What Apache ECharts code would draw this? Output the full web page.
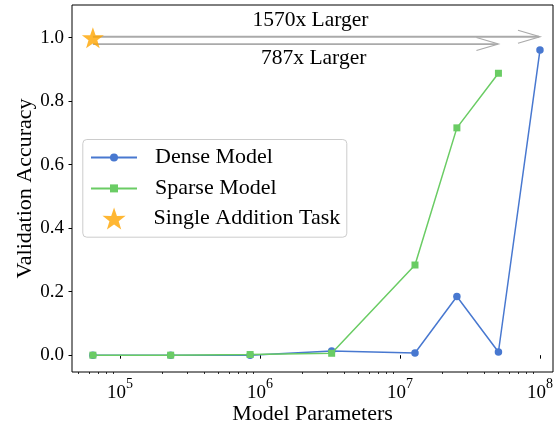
<!DOCTYPE html>
<html>
<head>
<meta charset="utf-8">
<script src="https://cdn.jsdelivr.net/npm/echarts@6/dist/echarts.min.js"></script>
<style>
html,body{margin:0;padding:0;background:#fff;}
#chart{width:554px;height:428px;}
</style>
</head>
<body>
<div id="chart"></div>
<script>
// ---- data ----
const modelParams = [6.4e4, 2.3e5, 8.5e5, 3.25e6, 1.28e7, 2.55e7, 5.05e7, 1.0e8];
const denseAcc = [0.0, 0.0, 0.0, 0.013, 0.007, 0.185, 0.010, 0.961];
const sparseAcc = [0.0, 0.0, 0.002, 0.006, 0.284, 0.716, 0.888];
const singleTask = [[6.4e4, 1.0]];
const arrowFrom = [6.4e4, 6.4e4];
const arrowTo = [1.0e8, 5.05e7];
const arrowY = [1.003, 0.980];
const arrowText = ['1570x Larger', '787x Larger'];
const xMajorTicks = [1e5, 1e6, 1e7, 1e8];
const yTicks = [0.0, 0.2, 0.4, 0.6, 0.8, 1.0];

const xMin = 45394, xMax = 1.239e8;
const xMinorTicks = [];
for (let d = 4; d <= 7; d++) {
  for (let k = 2; k <= 9; k++) {
    const v = k * Math.pow(10, d);
    if (v >= xMin && v <= xMax) xMinorTicks.push(v);
  }
}

const FONT = 'Liberation Serif';
const BLUE = '#4878D0';
const GREEN = '#6ACC64';
const ORANGE = '#FFA500';
const STAR = 'path://M50,0 L61.8,35.1 L97.6,34.5 L69.1,56.7 L79.4,90.5 L50,70 L20.6,90.5 L30.9,56.7 L2.4,34.5 L38.2,35.1 Z';

const chart = echarts.init(document.getElementById('chart'), null, {renderer: 'canvas'});

const arrowData = arrowFrom.map((f, i) => [f, arrowY[i], arrowTo[i]]);

const option = {
  animation: false,
  backgroundColor: '#fff',
  textStyle: {fontFamily: FONT},
  grid: {left: 72, right: 1, top: 5, bottom: 56, show: true, borderColor: '#000', borderWidth: 1,
    backgroundColor: 'transparent', containLabel: false, outerBoundsMode: 'none'},
  xAxis: [{
    type: 'log', logBase: 10, min: xMin, max: xMax,
    name: 'Model Parameters', nameLocation: 'middle', nameGap: 31, nameMoveOverlap: false,
    nameTextStyle: {fontFamily: FONT, fontSize: 22, color: '#000'},
    axisLine: {show: false},
    splitLine: {show: false},
    axisTick: {show: true, length: 3.5, lineStyle: {color: '#000', width: 1}, customValues: xMajorTicks},
    axisLabel: {
      show: true, margin: 5, customValues: xMajorTicks, color: '#000',
      formatter: v => '{b|10}{s|' + Math.round(Math.log10(v)) + '}',
      rich: {
        b: {fontFamily: FONT, fontSize: 19, color: '#000', lineHeight: 26, verticalAlign: 'bottom'},
        s: {fontFamily: FONT, fontSize: 14, color: '#000', lineHeight: 14, verticalAlign: 'top'}
      }
    }
  }, {
    type: 'log', logBase: 10, min: xMin, max: xMax, gridIndex: 0, position: 'bottom',
    axisLine: {show: false}, splitLine: {show: false},
    axisLabel: {show: false},
    axisTick: {show: true, length: 2, lineStyle: {color: '#000', width: 0.8}, customValues: xMinorTicks}
  }],
  yAxis: {
    type: 'value', min: -0.053, max: 1.103,
    name: 'Validation Accuracy', nameLocation: 'middle', nameGap: 36, nameRotate: 90, nameMoveOverlap: false,
    nameTextStyle: {fontFamily: FONT, fontSize: 22, color: '#000'},
    axisLine: {show: false},
    splitLine: {show: false},
    axisTick: {show: true, length: 3.5, lineStyle: {color: '#000', width: 1}, customValues: yTicks},
    axisLabel: {show: true, margin: 8, customValues: yTicks, fontFamily: FONT, fontSize: 19, color: '#000',
      formatter: v => v.toFixed(1)}
  },
  legend: [{
    data: ['Dense Model', 'Sparse Model'],
    orient: 'vertical', left: 90, top: 145.4,
    itemWidth: 46, itemHeight: 10, itemGap: 7, padding: 0,
    textStyle: {fontFamily: FONT, fontSize: 22, color: '#000', lineHeight: 24, padding: [0, 0, 0, 13]}
  }, {
    data: ['Single Addition Task'],
    orient: 'vertical', left: 102.5, top: 206.4,
    itemWidth: 46, itemHeight: 22, itemGap: 0, padding: 0,
    textStyle: {fontFamily: FONT, fontSize: 22, color: '#000', lineHeight: 24, padding: [0, 0, 0, 11.5]}
  }],
  graphic: [
    {type: 'rect', left: 82.3, top: 139, z: 0, zlevel: 0,
      shape: {width: 264, height: 97.7, r: 4},
      style: {fill: 'rgba(255,255,255,0.8)', stroke: '#cccccc', lineWidth: 1}},
    {type: 'text', x: 310.5, y: 20, style: {text: arrowText[0], font: '21.5px "Liberation Serif"', fill: '#000', textAlign: 'center', textVerticalAlign: 'middle'}},
    {type: 'text', x: 313.7, y: 58, style: {text: arrowText[1], font: '21.5px "Liberation Serif"', fill: '#000', textAlign: 'center', textVerticalAlign: 'middle'}}
  ],
  series: [{
    name: 'Arrows', type: 'custom', xAxisIndex: 0, yAxisIndex: 0, z: 1,
    encode: {x: [0, 2], y: 1},
    data: arrowData,
    renderItem: (params, api) => {
      const p0 = api.coord([api.value(0), api.value(1)]);
      const p1 = api.coord([api.value(2), api.value(1)]);
      return {type: 'group', children: [
        {type: 'line', shape: {x1: p0[0], y1: p0[1], x2: p1[0] - 1, y2: p1[1]}, style: {stroke: '#aaaaaa', lineWidth: 1.8}},
        {type: 'polyline', shape: {points: [[p1[0] - 22, p1[1] - 6.5], [p1[0], p1[1]], [p1[0] - 22, p1[1] + 6.5]]},
          style: {stroke: '#aaaaaa', fill: null, lineWidth: 1.2}}
      ]};
    }
  }, {
    name: 'Dense Model', type: 'line', xAxisIndex: 0, z: 2,
    data: modelParams.map((p, i) => [p, denseAcc[i]]),
    symbol: 'circle', symbolSize: 7.5,
    lineStyle: {color: BLUE, width: 1.5}, itemStyle: {color: BLUE}, color: BLUE
  }, {
    name: 'Sparse Model', type: 'line', xAxisIndex: 0, z: 3,
    data: sparseAcc.map((v, i) => [modelParams[i], v]),
    symbol: 'rect', symbolSize: 7,
    lineStyle: {color: GREEN, width: 1.5}, itemStyle: {color: GREEN}, color: GREEN
  }, {
    name: 'Single Addition Task', type: 'scatter', xAxisIndex: 0, z: 4,
    data: singleTask, symbol: STAR, symbolSize: [22, 21],
    itemStyle: {color: ORANGE}, color: ORANGE
  }]
};
chart.setOption(option);
</script>
</body>
</html>
